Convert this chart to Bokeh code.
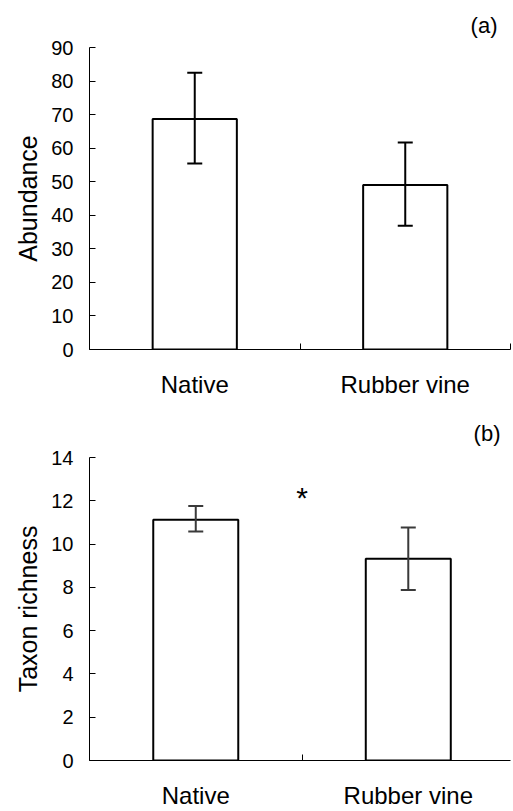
from bokeh.plotting import figure
from bokeh.models import ColumnDataSource, Whisker, TeeHead, FixedTicker, Label, Range1d
from bokeh.layouts import column
from bokeh.embed import file_html
from bokeh.resources import INLINE

categories = ["Native", "Rubber vine"]

abundance_mean = [68.7, 49.0]
abundance_upper = [82.5, 61.7]
abundance_lower = [55.4, 36.9]
abundance_ticks = [0, 10, 20, 30, 40, 50, 60, 70, 80, 90]

richness_mean = [11.12, 9.32]
richness_upper = [11.76, 10.76]
richness_lower = [10.58, 7.88]
richness_ticks = [0, 2, 4, 6, 8, 10, 12, 14]

FONT = "Liberation Sans"


def make_panel(mean, upper, lower, ticks, ylabel, height, x_end, border_top,
               border_bottom, border_left, border_right, err_color, tag, tag_offset,
               tag_standoff):
    xs = [i + 0.5 for i in range(len(categories))]
    src = ColumnDataSource(dict(x=xs, top=mean, upper=upper, lower=lower))
    p = figure(width=513, height=height, output_backend="svg", toolbar_location=None,
               x_range=Range1d(0, x_end), y_range=Range1d(ticks[0], ticks[-1]),
               min_border_top=border_top, min_border_bottom=border_bottom,
               min_border_left=border_left, min_border_right=border_right,
               title=tag)
    p.title.align = "right"
    p.title.offset = tag_offset
    p.title.standoff = tag_standoff
    p.title.text_font = FONT
    p.title.text_font_size = "22px"
    p.title.text_font_style = "normal"
    p.title.text_color = "black"

    p.outline_line_color = None
    p.grid.visible = False
    p.background_fill_color = "white"
    p.border_fill_color = "white"

    p.vbar(x="x", top="top", width=0.4, bottom=0, source=src,
           fill_color="white", line_color="black", line_width=2)
    w = Whisker(base="x", upper="upper", lower="lower", source=src, level="overlay",
                line_color=err_color, line_width=2,
                upper_head=TeeHead(size=15, line_color=err_color, line_width=2),
                lower_head=TeeHead(size=15, line_color=err_color, line_width=2))
    p.add_layout(w)

    # x axis
    xa = p.xaxis[0]
    xa.ticker = FixedTicker(ticks=xs, minor_ticks=list(range(len(categories) + 1)))
    xa.major_label_overrides = {x: c for x, c in zip(xs, categories)}
    xa.major_tick_in = 0
    xa.major_tick_out = 0
    xa.minor_tick_in = 6
    xa.minor_tick_out = 0
    xa.minor_tick_line_color = "black"
    xa.axis_line_color = "black"
    xa.major_label_text_font = FONT
    xa.major_label_text_font_size = "24px"
    xa.major_label_text_color = "black"
    xa.major_label_standoff = 21

    # y axis
    ya = p.yaxis[0]
    ya.ticker = FixedTicker(ticks=ticks)
    ya.major_tick_in = 6
    ya.major_tick_out = 0
    ya.minor_tick_line_color = None
    ya.axis_line_color = "black"
    ya.major_tick_line_color = "black"
    ya.major_label_text_font = FONT
    ya.major_label_text_font_size = "20px"
    ya.major_label_text_color = "black"
    ya.major_label_standoff = 16
    ya.axis_label = ylabel
    ya.axis_label_text_font = FONT
    ya.axis_label_text_font_size = "25px"
    ya.axis_label_text_font_style = "normal"
    ya.axis_label_text_color = "black"
    ya.axis_label_standoff = 6
    return p


p1 = make_panel(abundance_mean, abundance_upper, abundance_lower, abundance_ticks,
                "Abundance", 400, 2.0, 46, 51, 89, 3, "black", "(a)", 13, 20)
p2 = make_panel(richness_mean, richness_upper, richness_lower, richness_ticks,
                "Taxon richness", 411, 1.981, 57, 50, 87, 0, "#3a3a3a", "(b)", 10, 24)
p2.add_layout(Label(x=1.0, y=12.15, text="*", text_align="center",
                    text_baseline="alphabetic", text_font=FONT,
                    text_font_size="30px", text_color="black"))

layout = column(p1, p2, spacing=0)
open("out.html", "w").write(file_html(layout, INLINE))
